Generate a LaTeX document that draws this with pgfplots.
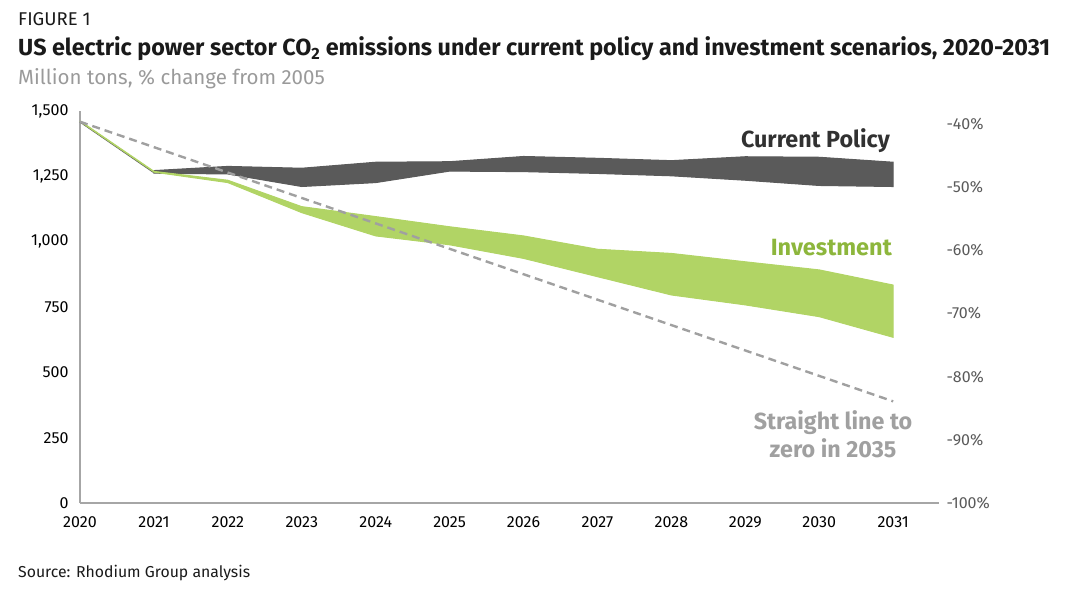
\documentclass[border=0pt]{standalone}
\usepackage{fontspec}
\setmainfont{Fira Sans}
\usepackage{pgfplots}
\pgfplotsset{compat=1.18}
\definecolor{cpgray}{HTML}{5A5A5A}
\definecolor{invgreen}{HTML}{B1D465}
\definecolor{invtext}{HTML}{8DB63C}
\definecolor{dashgray}{HTML}{A0A0A0}
\definecolor{axgray}{HTML}{A6A6A6}
\definecolor{subgray}{HTML}{9A9A9A}
\definecolor{titlecol}{HTML}{1A1A1A}
\begin{document}
\begin{tikzpicture}
\path[use as bounding box] (0pt,0pt) rectangle (1072pt,598pt);
\begin{axis}[
  at={(80pt,95pt)}, anchor=south west,
  scale only axis, width=859pt, height=392pt,
  xmin=2020, xmax=2031.62, ymin=0, ymax=1500,
  axis x line*=bottom, axis y line*=left,
  axis line style={draw=axgray, line width=1.3pt, -},
  major tick length=0pt,
  xtick={2020,2021,...,2031}, ytick={0,250,...,1500},
  /pgf/number format/assume math mode=true,
  x tick label style={/pgf/number format/1000 sep={}, font=\fontsize{16}{18}\selectfont, text=black, yshift=-10pt},
  y tick label style={/pgf/number format/1000 sep={,}, font=\fontsize{16}{18}\selectfont, text=black, xshift=-8pt},
  clip=false,
]
% Current policy band
\addplot[draw=cpgray, fill=cpgray, line width=1pt] coordinates {
 (2021,1272) (2022,1288) (2023,1281) (2024,1304) (2025,1306) (2026,1326)
 (2027,1319) (2028,1310) (2029,1325) (2030,1323) (2031,1304)
 (2031,1211) (2030,1215) (2029,1235) (2028,1252) (2027,1261) (2026,1268)
 (2025,1270) (2024,1226) (2023,1211) (2022,1259) (2021,1262) (2021,1272)
};
\addplot[draw=cpgray, line width=1.6pt] coordinates {(2020,1459) (2021,1265)};
% Investment band
\addplot[draw=invgreen, fill=invgreen, line width=1pt] coordinates {
 (2021,1269) (2022,1235) (2023,1134) (2024,1096) (2025,1057) (2026,1022)
 (2027,971) (2028,955) (2029,923) (2030,892) (2031,834)
 (2031,634) (2030,713) (2029,758) (2028,796) (2027,866) (2026,936)
 (2025,988) (2024,1022) (2023,1111) (2022,1226) (2021,1266) (2021,1269)
};
\addplot[draw=invgreen, line width=1.6pt] coordinates {(2020,1461) (2021,1268)};
% Straight line to zero in 2035
\addplot[draw=dashgray, line width=2.4pt, dash pattern=on 8pt off 5pt] coordinates {(2020,1459) (2031,389)};
\end{axis}
\begin{axis}[
  at={(80pt,95pt)}, anchor=south west,
  scale only axis, width=859pt, height=392pt,
  xmin=2020, xmax=2031.62, ymin=-100, ymax=-37.94,
  hide x axis, axis y line*=right,
  y axis line style={draw=none},
  major tick length=0pt,
  ytick={-100,-90,...,-40},
  yticklabels={-100\%,-90\%,-80\%,-70\%,-60\%,-50\%,-40\%},
  y tick label style={font=\fontsize{16}{18}\selectfont, text=cpgray, xshift=4pt},
]
\addplot[draw=none] coordinates {(2020,-100)};
\end{axis}
% Titles
\node[anchor=base west, inner sep=0pt, font=\fontsize{18.5}{20}\selectfont, text=titlecol] at (18pt,572pt) {FIGURE 1};
\node[anchor=base west, inner sep=0pt, font=\fontsize{23.3}{28}\selectfont\bfseries, text=titlecol] at (18pt,542pt) {US electric power sector CO\textsubscript{2} emissions under current policy and investment scenarios, 2020-2031};
\node[anchor=base west, inner sep=0pt, font=\fontsize{20.5}{22}\selectfont, text=subgray] at (18pt,513pt) {Million tons, \% change from 2005};
\node[anchor=base west, inner sep=0pt, font=\fontsize{15.8}{18}\selectfont, text=titlecol] at (18pt,21pt) {Source: Rhodium Group analysis};
% Series labels
\node[anchor=base east, inner sep=0pt, font=\fontsize{23.3}{28}\selectfont\bfseries, text=titlecol!90] at (890pt,450pt) {Current Policy};
\node[anchor=base east, inner sep=0pt, font=\fontsize{23.5}{28}\selectfont\bfseries, text=invtext] at (892pt,342pt) {Investment};
\node[anchor=base, inner sep=0pt, font=\fontsize{23.3}{28}\selectfont\bfseries, text=dashgray] at (833pt,168pt) {Straight line to};
\node[anchor=base, inner sep=0pt, font=\fontsize{23.3}{28}\selectfont\bfseries, text=dashgray] at (833pt,140pt) {zero in 2035};
\end{tikzpicture}
\end{document}
